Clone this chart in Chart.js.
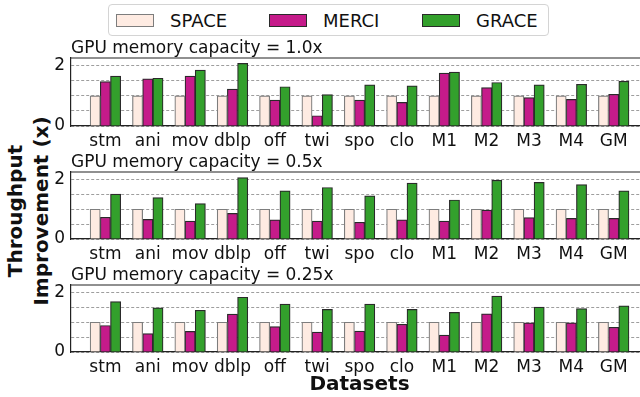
<!DOCTYPE html>
<html>
<head>
<meta charset="utf-8">
<title>Throughput improvement by GPU memory capacity</title>
<script src="https://cdn.jsdelivr.net/npm/chart.js@4.4.0/dist/chart.umd.min.js"></script>
<style>
    html, body { margin: 0; padding: 0; overflow: hidden; background: #fff; }
    body { width: 640px; height: 397px; position: relative; font-family: 'DejaVu Sans', sans-serif; color: #111; }
    canvas { position: absolute; left: 0; }
    #legend {
        position: absolute; left: 108px; top: 4px; width: 441px; height: 32px;
        box-sizing: border-box; border: 1px solid #d4d4d4; border-radius: 4px;
        display: flex; align-items: center; padding-left: 7px;
    }
    #legend .item { display: flex; align-items: center; width: 153px; font-size: 18px; }
    #legend .item:last-child { width: auto; }
    #legend .swatch { width: 38px; height: 13px; box-sizing: border-box; border: 1px solid; margin-right: 16px; }
    #ylabel {
        position: absolute; left: -102px; top: 185px; width: 260px; height: 52px;
        transform: rotate(-90deg); text-align: center;
        font-weight: bold; font-size: 20px; line-height: 26px;
    }
</style>
</head>
<body>
<div id="legend"></div>
<div id="ylabel">Throughput<br>Improvement (x)</div>
<canvas id="panel1" width="648" height="112" style="top:38px"></canvas>
<canvas id="panel2" width="648" height="111" style="top:152px"></canvas>
<canvas id="panel3" width="648" height="132" style="top:265px"></canvas>

<script>
// ==========================================
// --- data ---
// ==========================================
const categories = ['stm', 'ani', 'mov', 'dblp', 'off', 'twi', 'spo', 'clo', 'M1', 'M2', 'M3', 'M4', 'GM'];
const seriesNames = ['SPACE', 'MERCI', 'GRACE'];
const panelTitles = ['GPU memory capacity = 1.0x', 'GPU memory capacity = 0.5x', 'GPU memory capacity = 0.25x'];
const yGridValues = [0, 0.5, 1, 1.5, 2];
const yTickLabels = ['0', '2'];

// capacity = 1.0x
const space10 = [1, 1, 1, 1, 1, 1, 1, 1, 1, 1, 1, 1, 1];
const merci10 = [1.47, 1.56, 1.65, 1.22, 0.86, 0.34, 0.86, 0.78, 1.75, 1.27, 0.94, 0.88, 1.05];
const grace10 = [1.65, 1.58, 1.85, 2.07, 1.30, 1.04, 1.36, 1.33, 1.78, 1.44, 1.36, 1.38, 1.48];

// capacity = 0.5x
const space05 = [1, 1, 1, 1, 1, 1, 1, 1, 1, 1, 1, 1, 1];
const merci05 = [0.73, 0.66, 0.60, 0.86, 0.64, 0.60, 0.56, 0.64, 0.60, 0.97, 0.72, 0.69, 0.69];
const grace05 = [1.51, 1.39, 1.19, 2.06, 1.62, 1.73, 1.45, 1.88, 1.31, 1.97, 1.90, 1.83, 1.62];

// capacity = 0.25x
const space25 = [1, 1, 1, 1, 1, 1, 1, 1, 1, 1, 1, 1, 1];
const merci25 = [0.89, 0.62, 0.69, 1.27, 0.85, 0.67, 0.70, 0.93, 0.57, 1.28, 0.98, 0.98, 0.83];
const grace25 = [1.69, 1.48, 1.40, 1.84, 1.61, 1.43, 1.61, 1.43, 1.33, 1.88, 1.51, 1.46, 1.55];

// styles
const seriesColors = ['#feebe2', '#c51b8a', '#33a02c'];
const seriesEdges = ['#7d7d7d', '#2a2a2a', '#2a2a2a'];

Chart.defaults.font.family = "'DejaVu Sans', sans-serif";
Chart.defaults.color = '#111';

// top spine of each panel (matplotlib style frame)
const topSpine = {
    id: 'topSpine',
    afterDatasetsDraw(chart) {
        const { ctx, chartArea } = chart;
        ctx.save();
        ctx.strokeStyle = '#222';
        ctx.lineWidth = 1.2;
        ctx.beginPath();
        ctx.moveTo(chartArea.left, chartArea.top);
        ctx.lineTo(chartArea.right, chartArea.top);
        ctx.stroke();
        ctx.restore();
    }
};

// legend rendered as html from the chart's own legend items
const htmlLegend = {
    id: 'htmlLegend',
    afterUpdate(chart) {
        const box = document.getElementById('legend');
        box.innerHTML = '';
        chart.options.plugins.legend.labels.generateLabels(chart).forEach(item => {
            const el = document.createElement('div');
            el.className = 'item';
            const sw = document.createElement('span');
            sw.className = 'swatch';
            sw.style.background = item.fillStyle;
            sw.style.borderColor = item.strokeStyle;
            const txt = document.createElement('span');
            txt.textContent = item.text;
            el.appendChild(sw);
            el.appendChild(txt);
            box.appendChild(el);
        });
    }
};

function makePanel(canvasId, title, space, merci, grace, isBottom, withLegend) {
    const ctx = document.getElementById(canvasId).getContext('2d');
    const toPoints = vals => vals.map((v, i) => ({ x: i, y: v }));
    const values = [space, merci, grace];

    return new Chart(ctx, {
        type: 'bar',
        data: {
            datasets: values.map((vals, k) => ({
                label: seriesNames[k],
                data: toPoints(vals),
                backgroundColor: seriesColors[k],
                borderColor: seriesEdges[k],
                borderWidth: 1.2,
                barThickness: 10.2
            }))
        },
        options: {
            responsive: false,
            animation: false,
            devicePixelRatio: 1,
            layout: { padding: 0 },
            plugins: {
                legend: { display: false },
                tooltip: { enabled: false },
                title: {
                    display: true,
                    text: title,
                    align: 'start',
                    fullSize: false,
                    color: '#111',
                    font: { size: 17, weight: 'normal', lineHeight: 1 },
                    padding: { top: 2, bottom: 1 }
                }
            },
            scales: {
                x: {
                    type: 'linear',
                    offset: false,
                    min: -0.812,
                    max: 12.81,
                    afterBuildTicks: s => { s.ticks = categories.map((c, i) => ({ value: i })); },
                    afterFit: s => { s.height = isBottom ? 45 : 24; },
                    grid: { display: false, drawTicks: false },
                    border: { color: '#222', width: 1.2 },
                    ticks: {
                        autoSkip: false,
                        maxRotation: 0,
                        padding: 5,
                        color: '#111',
                        font: { size: 17 },
                        callback: v => categories[v]
                    },
                    title: {
                        display: isBottom,
                        text: 'Datasets',
                        color: '#111',
                        font: { size: 20, weight: 'bold' },
                        padding: { top: 0, bottom: 0 }
                    }
                },
                y: {
                    min: 0,
                    max: 2.25,
                    afterBuildTicks: s => { s.ticks = yGridValues.map(v => ({ value: v })); },
                    afterFit: s => { s.width = 71; },
                    grid: { color: 'rgba(0,0,0,0.38)', lineWidth: 1, drawTicks: false },
                    border: { color: '#222', width: 1.2, dash: [3, 2] },
                    ticks: {
                        autoSkip: false,
                        padding: 6,
                        color: '#111',
                        font: { size: 17 },
                        callback: v => (yTickLabels.includes(String(v)) ? String(v) : '')
                    }
                }
            }
        },
        plugins: withLegend ? [topSpine, htmlLegend] : [topSpine]
    });
}

makePanel('panel1', panelTitles[0], space10, merci10, grace10, false, true);
makePanel('panel2', panelTitles[1], space05, merci05, grace05, false, false);
makePanel('panel3', panelTitles[2], space25, merci25, grace25, true, false);
</script>
</body>
</html>
